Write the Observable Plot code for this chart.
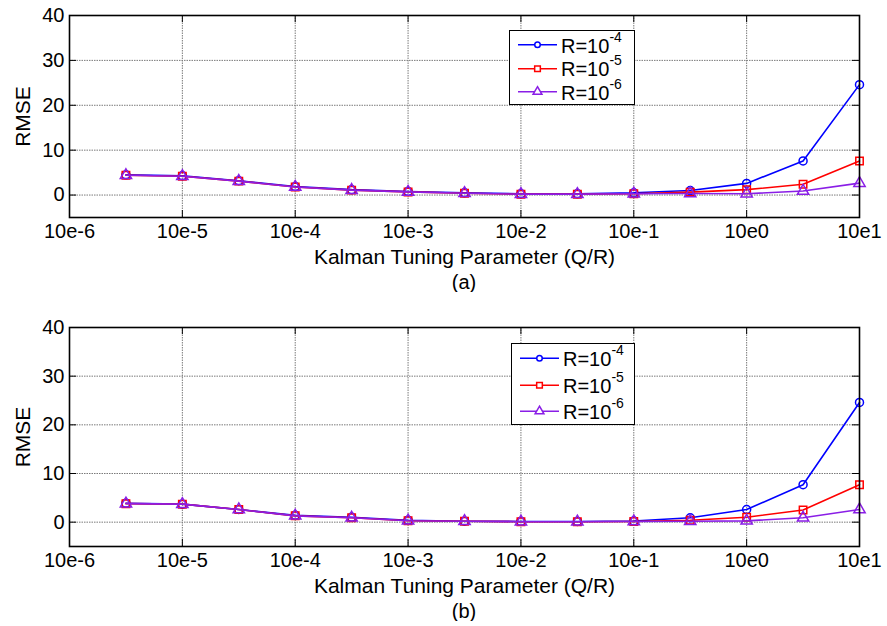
<!DOCTYPE html>
<html>
<head>
<meta charset="utf-8">
<script src="https://cdn.jsdelivr.net/npm/d3@7"></script>
<script src="https://cdn.jsdelivr.net/npm/@observablehq/plot@0.6"></script>
<style>
  html, body { margin: 0; padding: 0; background: white; }
  body { width: 887px; font-family: "Liberation Sans", Arial, sans-serif; color: black; }
  .panel { position: relative; }
  .caption { height: 20px; line-height: 20px; font-size: 20px; padding-left: 69px; width: 790px; text-align: center; }
  .legend { position: absolute; background: white; border: 1.5px solid black; box-sizing: border-box; }
  .legend .row { display: flex; align-items: center; font-size: 20px; }
  .legend sup { font-size: 14px; position: relative; top: -3px; }
</style>
</head>
<body>
<div id="chart"></div>
<script>
// ---- data ----
const exponents = [-5.5, -5, -4.5, -4, -3.5, -3, -2.5, -2, -1.5, -1, -0.5, 0, 0.5, 1];
const xTickExponents = [-6, -5, -4, -3, -2, -1, 0, 1];
const xTickLabels = ["10e-6", "10e-5", "10e-4", "10e-3", "10e-2", "10e-1", "10e0", "10e1"];
const yTicks = [0, 10, 20, 30, 40];
const seriesNames = ["R=10^-4", "R=10^-5", "R=10^-6"];
const seriesExp = ["-4", "-5", "-6"];
const seriesColors = ["#0000ff", "#ff0000", "#8a1ee6"];
const seriesSymbols = ["circle", "square", "triangle"];
const panelLabels = ["(a)", "(b)"];
const xLabel = "Kalman Tuning Parameter (Q/R)";
const yLabel = "RMSE";

// panel (a)
const a_R4 = [4.5, 4.3, 3.2, 1.9, 1.2, 0.8, 0.5, 0.3, 0.3, 0.5, 1.0, 2.6, 7.6, 24.6];
const a_R5 = [4.4, 4.2, 3.1, 1.8, 1.1, 0.7, 0.4, 0.2, 0.2, 0.3, 0.65, 1.2, 2.4, 7.6];
const a_R6 = [4.4, 4.2, 3.1, 1.8, 1.1, 0.7, 0.4, 0.2, 0.2, 0.3, 0.35, 0.3, 0.9, 2.65];
// panel (b)
const b_R4 = [3.9, 3.7, 2.6, 1.4, 1.0, 0.4, 0.2, 0.15, 0.15, 0.25, 0.9, 2.6, 7.7, 24.6];
const b_R5 = [3.8, 3.7, 2.6, 1.3, 0.9, 0.3, 0.2, 0.1, 0.1, 0.15, 0.4, 1.0, 2.5, 7.7];
const b_R6 = [3.8, 3.7, 2.6, 1.3, 0.9, 0.3, 0.2, 0.1, 0.1, 0.15, 0.2, 0.27, 0.9, 2.6];

const xValues = exponents.map(e => Math.pow(10, e));
const xTicks = xTickExponents.map(e => Math.pow(10, e));
const tickLabelOf = new Map(xTicks.map((t, i) => [t, xTickLabels[i]]));

const FONT = "'Liberation Sans', Arial, sans-serif";

function makePanel(seriesValues, cfg) {
  const plotH = cfg.plotH;
  const marks = [
    Plot.ruleX(xTicks.slice(1, -1), {stroke: "#7a7a7a", strokeWidth: 1, strokeDasharray: "1.5,1"}),
    Plot.ruleY(yTicks.slice(0, -1), {stroke: "#7a7a7a", strokeWidth: 1, strokeDasharray: "1.5,1"}),
    // inward ticks (bottom, top, left, right)
    Plot.tickX(xTicks, {x: d => d, stroke: "black", insetTop: plotH - 7}),
    Plot.tickX(xTicks, {x: d => d, stroke: "black", insetBottom: plotH - 7}),
    Plot.tickY(yTicks, {y: d => d, stroke: "black", insetRight: 790 - 7}),
    Plot.tickY(yTicks, {y: d => d, stroke: "black", insetLeft: 790 - 7}),
  ];
  seriesValues.forEach((vals, s) => {
    const rows = vals.map((v, i) => ({x: xValues[i], y: v}));
    marks.push(Plot.line(rows, {x: "x", y: "y", stroke: seriesColors[s], strokeWidth: 1.6}));
    marks.push(Plot.dot(rows, {x: "x", y: "y", symbol: seriesSymbols[s], r: s === 0 ? 4 : 4.2, stroke: seriesColors[s], strokeWidth: 1.5, fill: "none"}));
  });
  marks.push(
    Plot.frame({stroke: "black", strokeWidth: 1.6}),
    Plot.axisX(xTicks, {tickSize: 0, tickPadding: 6, tickFormat: d => tickLabelOf.get(d), fontSize: 20, label: null}),
    Plot.axisY(yTicks, {tickSize: 0, tickPadding: 5, fontSize: 20, label: null}),
    Plot.text([xLabel], {frameAnchor: "bottom", lineAnchor: "middle", textAnchor: "middle", dy: 40, fontSize: 21}),
    Plot.text([yLabel], {frameAnchor: "left", lineAnchor: "middle", textAnchor: "middle", dx: -46, rotate: -90, fontSize: 21})
  );
  return Plot.plot({
    width: 887,
    height: cfg.marginTop + plotH + 55,
    marginTop: cfg.marginTop,
    marginBottom: 55,
    marginLeft: 69,
    marginRight: 28,
    x: {type: "log", domain: [1e-6, 10]},
    y: {domain: [-5, 40]},
    style: {fontFamily: FONT, fontSize: "20px", color: "black", background: "white", overflow: "visible"},
    marks
  });
}

function makeLegend(cfg) {
  const lg = document.createElement("div");
  lg.className = "legend";
  Object.assign(lg.style, {left: cfg.left + "px", top: cfg.top + "px", width: cfg.width + "px", height: cfg.height + "px", paddingTop: cfg.padTop + "px"});
  seriesNames.forEach((name, s) => {
    const row = document.createElement("div");
    row.className = "row";
    row.style.height = cfg.rowH + "px";
    const sw = d3.create("svg").attr("width", 50).attr("height", cfg.rowH);
    const cy = cfg.rowH / 2;
    sw.append("line").attr("x1", 8).attr("x2", 47).attr("y1", cy).attr("y2", cy)
      .attr("stroke", seriesColors[s]).attr("stroke-width", 1.6);
    const sym = [d3.symbolCircle, d3.symbolSquare, d3.symbolTriangle][s];
    const size = [24, 32, 34][s];
    sw.append("path").attr("d", d3.symbol(sym, size)()).attr("transform", `translate(27.5,${cy})`)
      .attr("fill", "white").attr("stroke", seriesColors[s]).attr("stroke-width", 1.5);
    row.appendChild(sw.node());
    const t = document.createElement("span");
    t.innerHTML = "R=10<sup>" + seriesExp[s] + "</sup>";
    t.style.marginLeft = "1px";
    row.appendChild(t);
    lg.appendChild(row);
  });
  return lg;
}

const chart = document.getElementById("chart");
const panels = [
  {vals: [a_R4, a_R5, a_R6], marginTop: 15, plotH: 202, legend: {left: 509, top: 30, width: 126, height: 75, rowH: 23.5, padTop: 2}},
  {vals: [b_R4, b_R5, b_R6], marginTop: 35, plotH: 219, legend: {left: 511, top: 51, width: 124, height: 82, rowH: 26.5, padTop: 1}}
];
panels.forEach((p, i) => {
  const div = document.createElement("div");
  div.className = "panel";
  div.appendChild(makePanel(p.vals, p));
  div.appendChild(makeLegend(p.legend));
  chart.appendChild(div);
  const cap = document.createElement("div");
  cap.className = "caption";
  cap.textContent = panelLabels[i];
  chart.appendChild(cap);
});
</script>
</body>
</html>
